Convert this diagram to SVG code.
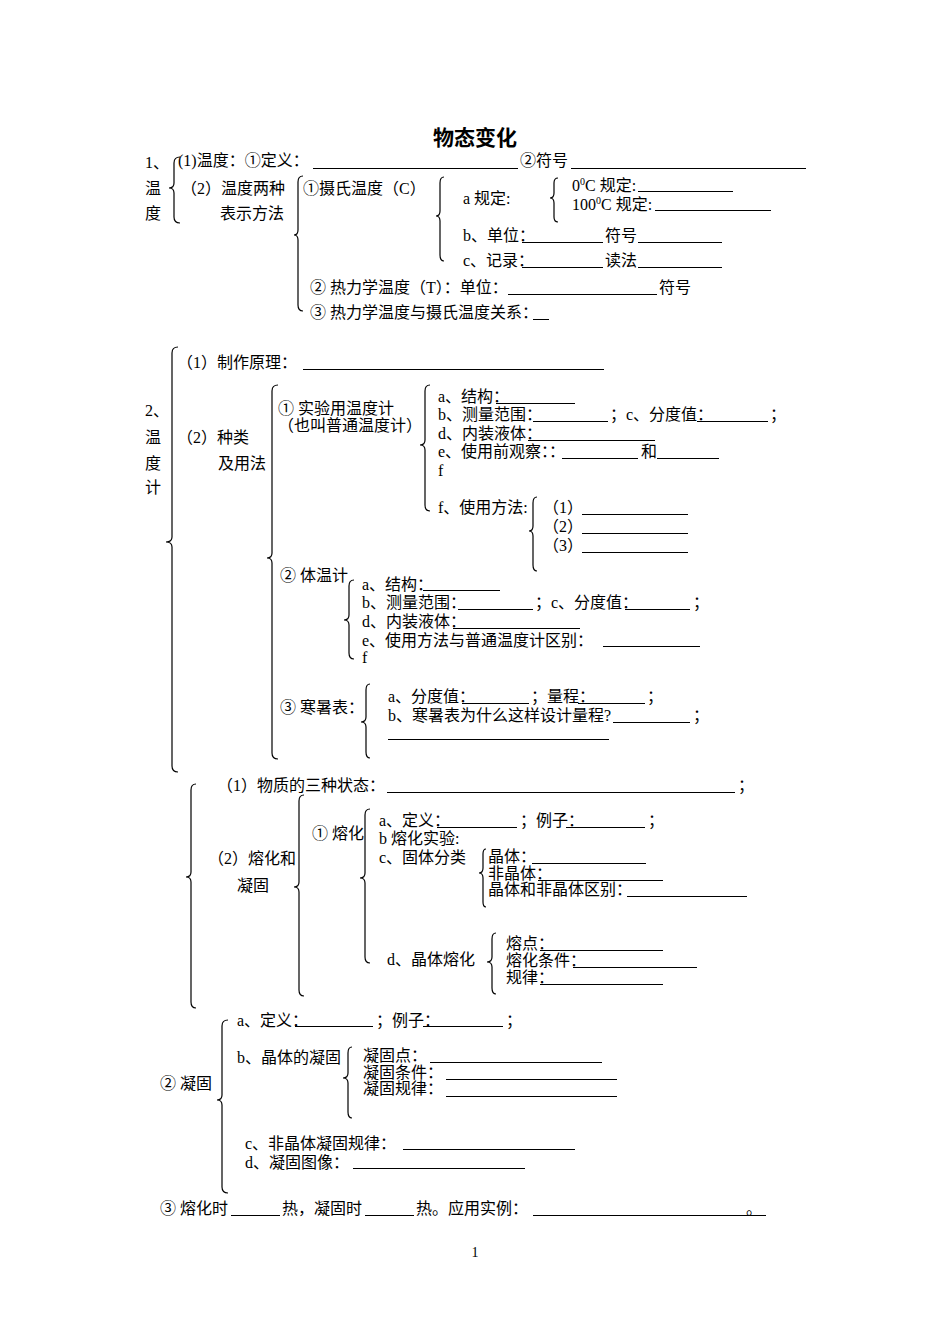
<svg xmlns="http://www.w3.org/2000/svg" width="950" height="1344" viewBox="0 0 950 1344">
<style>
text{font-family:"Liberation Serif","Noto Sans CJK SC",serif;font-size:16px;fill:#000}
.title{font-size:21px;font-weight:bold;font-family:"Noto Sans CJK SC",sans-serif}
.pg{font-size:14px}
.u{stroke:#000;stroke-width:1;fill:none}
.br{stroke:#000;stroke-width:1.2;fill:none}
</style>
<rect width="950" height="1344" fill="#fff"/>
<g id="title"><text class="title" x="475" y="145" text-anchor="middle">物态变化</text></g>

<g id="connectors">
<path class="br" d="M180 157 Q174 157 174 163 L174 183 Q174 188 169 188 Q174 188 174 193 L174 217 Q174 223 180 223"/>
<path class="br" d="M303 176 Q298 176 298 182 L298 230 Q298 235 294 235 Q298 235 298 240 L298 305 Q298 311 303 311"/>
<path class="br" d="M444 177 Q440 177 440 183 L440 211 Q440 216 436 216 Q440 216 440 221 L440 255 Q440 261 444 261"/>
<path class="br" d="M558 178 Q554 178 554 183 L554 193 Q554 198 550 198 Q554 198 554 203 L554 217 Q554 222 558 222"/>
<path class="br" d="M178 347 Q172 347 172 353 L172 537 Q172 542 166 542 Q172 542 172 547 L172 766 Q172 772 178 772"/>
<path class="br" d="M278 385 Q272 385 272 391 L272 553 Q272 558 267 558 Q272 558 272 563 L272 753 Q272 759 278 759"/>
<path class="br" d="M430 385 Q425 385 425 391 L425 440 Q425 445 420 445 Q425 445 425 450 L425 505 Q425 511 430 511"/>
<path class="br" d="M537 497 Q533 497 533 503 L533 526 Q533 531 529 531 Q533 531 533 536 L533 565 Q533 571 537 571"/>
<path class="br" d="M354 580 Q349 580 349 586 L349 615 Q349 620 344 620 Q349 620 349 625 L349 653 Q349 659 354 659"/>
<path class="br" d="M370 684 Q366 684 366 690 L366 717 Q366 722 361 722 Q366 722 366 727 L366 752 Q366 758 370 758"/>
<path class="br" d="M196 784 Q191 784 191 790 L191 872 Q191 877 186 877 Q191 877 191 882 L191 1002 Q191 1008 196 1008"/>
<path class="br" d="M304 795 Q299 795 299 801 L299 882 Q299 887 294 887 Q299 887 299 892 L299 990 Q299 996 304 996"/>
<path class="br" d="M370 809 Q365 809 365 815 L365 873 Q365 878 360 878 Q365 878 365 883 L365 957 Q365 963 370 963"/>
<path class="br" d="M486 849 Q483 849 483 854 L483 868 Q483 873 479 873 Q483 873 483 878 L483 902 Q483 907 486 907"/>
<path class="br" d="M496 933 Q492 933 492 939 L492 957 Q492 962 487 962 Q492 962 492 967 L492 988 Q492 994 496 994"/>
<path class="br" d="M228 1020 Q222 1020 222 1026 L222 1095 Q222 1100 217 1100 Q222 1100 222 1105 L222 1187 Q222 1193 228 1193"/>
<path class="br" d="M352 1047 Q348 1047 348 1053 L348 1073 Q348 1078 343 1078 Q348 1078 348 1083 L348 1112 Q348 1118 352 1118"/>
</g>

<g id="sec1">
<text x="145" y="168">1、</text>
<text x="145" y="194">温</text>
<text x="145" y="219">度</text>
</g>
<g id="s1-def">
<text x="178" y="166">(1)温度：①定义：</text>
<line class="u" x1="313" y1="168.5" x2="518" y2="168.5"/>
<text x="520" y="166">②符号</text>
<line class="u" x1="571" y1="168.5" x2="806" y2="168.5"/>
</g>
<g id="s1-two">
<text x="181" y="194">（2）温度两种</text>
<text x="220" y="219">表示方法</text>
</g>
<g id="s1-celsius">
<text x="303" y="194">①摄氏温度（C）</text>
</g>
<g id="s1-a">
<text x="463" y="204">a 规定:</text>
<text x="572" y="191">0<tspan font-size="10" dy="-6">0</tspan><tspan dy="6">C 规定:</tspan></text>
<line class="u" x1="638" y1="191.5" x2="733" y2="191.5"/>
<text x="572" y="210">100<tspan font-size="10" dy="-6">0</tspan><tspan dy="6">C 规定:</tspan></text>
<line class="u" x1="655" y1="210.5" x2="771" y2="210.5"/>
</g>
<g id="s1-b">
<text x="463" y="241">b、单位：</text>
<line class="u" x1="522" y1="242.5" x2="603" y2="242.5"/>
<text x="605" y="241">符号</text>
<line class="u" x1="638" y1="242.5" x2="722" y2="242.5"/>
</g>
<g id="s1-c">
<text x="463" y="266">c、记录：</text>
<line class="u" x1="522" y1="267.5" x2="603" y2="267.5"/>
<text x="605" y="266">读法</text>
<line class="u" x1="638" y1="267.5" x2="722" y2="267.5"/>
</g>
<g id="s1-kelvin">
<text x="310" y="293">② 热力学温度（T）：单位：</text>
<line class="u" x1="508" y1="294.5" x2="657" y2="294.5"/>
<text x="659" y="293">符号</text>
</g>
<g id="s1-rel">
<text x="310" y="318">③ 热力学温度与摄氏温度关系：</text>
<line class="u" x1="533" y1="319.5" x2="549" y2="319.5"/>
</g>

<g id="sec2">
<text x="145" y="416">2、</text>
<text x="145" y="443">温</text>
<text x="145" y="469">度</text>
<text x="145" y="493">计</text>
</g>
<g id="s2-principle">
<text x="177" y="368">（1）制作原理：</text>
<line class="u" x1="303" y1="369.5" x2="604" y2="369.5"/>
</g>
<g id="s2-kinds">
<text x="177" y="443">（2）种类</text>
<text x="218" y="469">及用法</text>
</g>
<g id="s2-lab">
<text x="278" y="414">① 实验用温度计</text>
<text x="278" y="431">（也叫普通温度计）</text>
</g>
<g id="s2-lab-list">
<text x="438" y="402">a、结构：</text>
<line class="u" x1="496" y1="403.5" x2="575" y2="403.5"/>
<text x="438" y="420">b、测量范围：</text>
<line class="u" x1="533" y1="421.5" x2="608" y2="421.5"/>
<text x="610" y="420">；c、分度值：</text>
<line class="u" x1="697" y1="421.5" x2="768" y2="421.5"/>
<text x="770" y="420">；</text>
<text x="438" y="439">d、内装液体：</text>
<line class="u" x1="528" y1="440.5" x2="655" y2="440.5"/>
<text x="438" y="457">e、使用前观察：：</text>
<line class="u" x1="562" y1="458.5" x2="638" y2="458.5"/>
<text x="641" y="457">和</text>
<line class="u" x1="657" y1="458.5" x2="719" y2="458.5"/>
<text x="438" y="476">f</text>
<text x="438" y="513">f、使用方法:</text>
</g>
<g id="s2-usage">
<text x="543" y="513">（1）</text>
<line class="u" x1="582" y1="514.5" x2="688" y2="514.5"/>
<text x="543" y="532">（2）</text>
<line class="u" x1="582" y1="533.5" x2="688" y2="533.5"/>
<text x="543" y="551">（3）</text>
<line class="u" x1="582" y1="552.5" x2="688" y2="552.5"/>
</g>
<g id="s2-clinical">
<text x="280" y="581">② 体温计</text>
<text x="362" y="590">a、结构：</text>
<line class="u" x1="423" y1="590.5" x2="500" y2="590.5"/>
<text x="362" y="608">b、测量范围：</text>
<line class="u" x1="458" y1="609.5" x2="533" y2="609.5"/>
<text x="535" y="608">；c、分度值：</text>
<line class="u" x1="625" y1="609.5" x2="690" y2="609.5"/>
<text x="693" y="608">；</text>
<text x="362" y="627">d、内装液体：</text>
<line class="u" x1="453" y1="628.5" x2="580" y2="628.5"/>
<text x="362" y="646">e、使用方法与普通温度计区别：</text>
<line class="u" x1="603" y1="646.5" x2="700" y2="646.5"/>
<text x="362" y="663">f</text>
</g>
<g id="s2-weather">
<text x="280" y="713">③ 寒暑表：</text>
<text x="388" y="702">a、分度值：</text>
<line class="u" x1="462" y1="703.5" x2="529" y2="703.5"/>
<text x="531" y="702">；量程：</text>
<line class="u" x1="578" y1="703.5" x2="645" y2="703.5"/>
<text x="647" y="702">；</text>
<text x="388" y="721">b、寒暑表为什么这样设计量程?</text>
<line class="u" x1="613" y1="722.5" x2="690" y2="722.5"/>
<text x="693" y="721">；</text>
<line class="u" x1="388" y1="739.5" x2="609" y2="739.5"/>
</g>

<g id="s3-states">
<text x="217" y="791">（1）物质的三种状态：</text>
<line class="u" x1="387" y1="792.5" x2="735" y2="792.5"/>
<text x="738" y="791">；</text>
</g>
<g id="s3-melt-freeze">
<text x="208" y="864">（2）熔化和</text>
<text x="237" y="891">凝固</text>
</g>
<g id="s3-melting">
<text x="312" y="839">① 熔化</text>
<text x="379" y="826">a、定义：</text>
<line class="u" x1="437" y1="827.5" x2="517" y2="827.5"/>
<text x="520" y="826">；例子：</text>
<line class="u" x1="566" y1="827.5" x2="645" y2="827.5"/>
<text x="648" y="826">；</text>
<text x="379" y="844">b 熔化实验:</text>
<text x="379" y="863">c、固体分类</text>
</g>
<g id="s3-solids">
<text x="488" y="862">晶体：</text>
<line class="u" x1="532" y1="863.5" x2="646" y2="863.5"/>
<text x="488" y="879">非晶体：</text>
<line class="u" x1="538" y1="880.5" x2="663" y2="880.5"/>
<text x="488" y="895">晶体和非晶体区别：</text>
<line class="u" x1="627" y1="896.5" x2="747" y2="896.5"/>
</g>
<g id="s3-crystal-melt">
<text x="387" y="965">d、晶体熔化</text>
<text x="506" y="949">熔点：</text>
<line class="u" x1="540" y1="950.5" x2="663" y2="950.5"/>
<text x="506" y="966">熔化条件：</text>
<line class="u" x1="573" y1="967.5" x2="697" y2="967.5"/>
<text x="506" y="983">规律：</text>
<line class="u" x1="540" y1="984.5" x2="663" y2="984.5"/>
</g>
<g id="s3-freezing">
<text x="160" y="1089">② 凝固</text>
<text x="237" y="1026">a、定义：</text>
<line class="u" x1="295" y1="1026.5" x2="373" y2="1026.5"/>
<text x="376" y="1026">；例子：</text>
<line class="u" x1="423" y1="1026.5" x2="503" y2="1026.5"/>
<text x="506" y="1026">；</text>
<text x="237" y="1063">b、晶体的凝固</text>
</g>
<g id="s3-crystal-freeze">
<text x="363" y="1061">凝固点：</text>
<line class="u" x1="430" y1="1062.5" x2="602" y2="1062.5"/>
<text x="363" y="1078">凝固条件：</text>
<line class="u" x1="446" y1="1079.5" x2="617" y2="1079.5"/>
<text x="363" y="1094">凝固规律：</text>
<line class="u" x1="446" y1="1096.5" x2="617" y2="1096.5"/>
</g>
<g id="s3-freeze-cd">
<text x="245" y="1149">c、非晶体凝固规律：</text>
<line class="u" x1="403" y1="1149.5" x2="575" y2="1149.5"/>
<text x="245" y="1168">d、凝固图像：</text>
<line class="u" x1="353" y1="1168.5" x2="525" y2="1168.5"/>
</g>
<g id="s3-heat">
<text x="160" y="1214">③ 熔化时</text>
<line class="u" x1="231" y1="1215.5" x2="280" y2="1215.5"/>
<text x="282" y="1214">热，凝固时</text>
<line class="u" x1="365" y1="1215.5" x2="414" y2="1215.5"/>
<text x="416" y="1214">热。应用实例：</text>
<line class="u" x1="533" y1="1215.5" x2="766" y2="1215.5"/>
<text x="746" y="1214">。</text>
</g>
<g id="page"><text class="pg" x="475" y="1257" text-anchor="middle">1</text></g>
</svg>
